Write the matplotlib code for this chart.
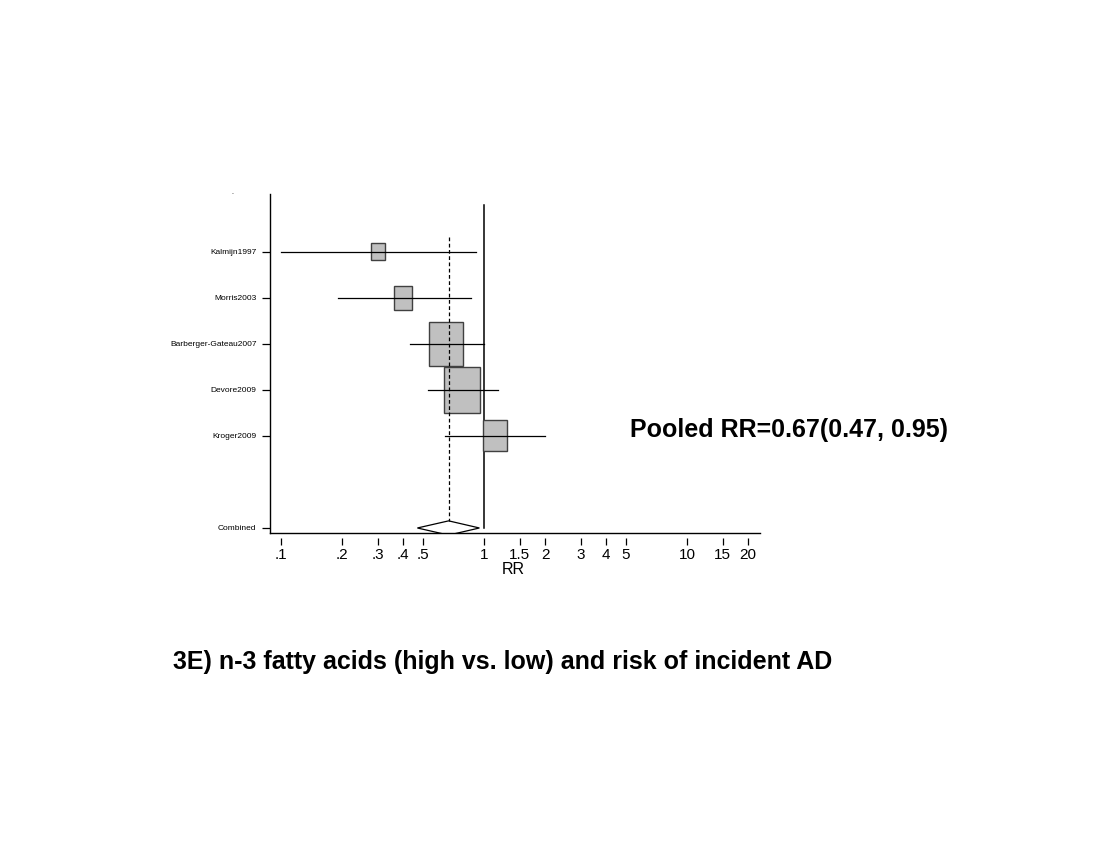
import numpy as np
import matplotlib.pyplot as plt
from matplotlib.patches import Rectangle, Polygon

plt.rcParams['font.family'] = ['Liberation Sans', 'DejaVu Sans']

# study estimates
studies = ["Kalmijn1997", "Morris2003", "Barberger-Gateau2007", "Devore2009", "Kroger2009"]
rr = [0.30, 0.40, 0.65, 0.78, 1.13]
ci_low = [0.10, 0.19, 0.43, 0.53, 0.64]
ci_high = [0.91, 0.86, 1.00, 1.17, 2.01]
weights = [5.0, 9.6, 32.2, 36.8, 16.5]  # % weight (box area)

pooled_rr = 0.67
pooled_low = 0.47
pooled_high = 0.95

xticks = [0.1, 0.2, 0.3, 0.4, 0.5, 1, 1.5, 2, 3, 4, 5, 10, 15, 20]
xtick_labels = [".1", ".2", ".3", ".4", ".5", "1", "1.5", "2", "3", "4", "5", "10", "15", "20"]

W, H = 1099, 849
fig = plt.figure(figsize=(W / 100, H / 100), dpi=100)
ax = fig.add_axes([270 / W, 1 - 533 / H, 490 / W, 339 / H])
ax.set_xscale('log')
ax.set_xlim(10 ** -1.054, 10 ** 1.36)
ax.set_ylim(7.109, -0.26)

ypos = np.arange(1, len(studies) + 1)
y_comb = ypos[-1] + 2

# pixels per unit, used to size the boxes
px_y = 46.0
px_logx = 203.0

for i in range(len(studies)):
    h_px = 7.63 * np.sqrt(weights[i])
    w_px = 0.785 * h_px
    hh = h_px / 2 / px_y
    hw = w_px / 2 / px_logx
    x0 = rr[i] / 10 ** hw
    x1 = rr[i] * 10 ** hw
    ax.add_patch(Rectangle((x0, ypos[i] - hh), x1 - x0, 2 * hh,
                           facecolor='#c0c0c0', edgecolor='#404040', lw=1.0, zorder=2))
    ax.plot([ci_low[i], ci_high[i]], [ypos[i], ypos[i]], color='black', lw=0.9, zorder=3)

# combined diamond
dh = 0.155
ax.add_patch(Polygon([(pooled_low, y_comb), (pooled_rr, y_comb - dh),
                      (pooled_high, y_comb), (pooled_rr, y_comb + dh)],
                     closed=True, facecolor='white', edgecolor='black', lw=0.9, zorder=2))

# reference lines
ax.plot([1, 1], [-0.02, y_comb], color='black', lw=1.1, zorder=1)
ax.plot([pooled_rr, pooled_rr], [0.67, y_comb - dh], color='black', lw=0.9,
        linestyle=(0, (3, 2)), zorder=4)

ax.spines['top'].set_visible(False)
ax.spines['right'].set_visible(False)
ax.spines['left'].set_linewidth(1.0)
ax.spines['bottom'].set_position(('outward', 3.6))
ax.spines['bottom'].set_visible(False)
ax.plot([0, 1], [0, 0], transform=ax.transAxes, color='black', lw=1.0, clip_on=False)

ax.set_xticks(xticks)
ax.set_xticklabels(xtick_labels)
ax.xaxis.set_minor_locator(plt.NullLocator())
ax.tick_params(axis='x', length=5, width=0.9, labelsize=11, pad=2)
ax.set_yticks(list(ypos) + [y_comb])
ax.set_yticklabels(studies + ["Combined"])
ax.tick_params(axis='y', length=5.8, width=0.9, labelsize=6, pad=4)
ax.set_xlabel("RR", fontsize=11.5, labelpad=0)
ax.xaxis.set_label_coords(243 / 490, -0.0847)

fig.text(232 / W, 1 - 193 / H, ".", fontsize=5, ha='center', va='center')
fig.text(630 / W, 1 - 430 / H, "Pooled RR=0.67(0.47, 0.95)", fontsize=18,
         fontweight='bold', va='center', ha='left')
fig.text(173 / W, 1 - 662 / H, "3E) n-3 fatty acids (high vs. low) and risk of incident AD",
         fontsize=18, fontweight='bold', va='center', ha='left')

fig.savefig("out.png", dpi=100)
